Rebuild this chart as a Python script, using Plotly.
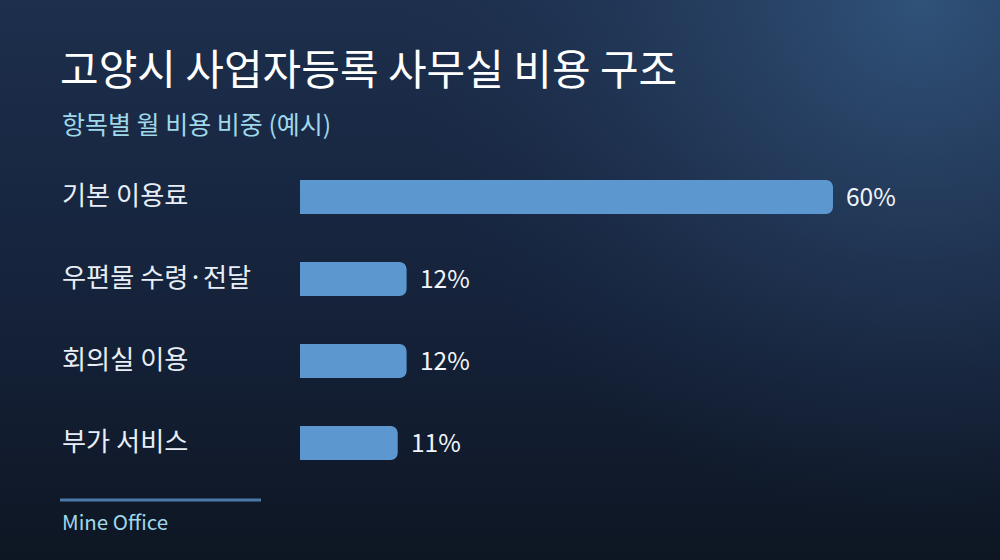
import base64

import plotly.graph_objects as go

# 데이터
categories = ["기본 이용료", "우편물 수령·전달", "회의실 이용", "부가 서비스"]
shares = [60, 12, 12, 11]
value_labels = ["60%", "12%", "12%", "11%"]

title_text = "고양시 사업자등록 사무실 비용 구조"
subtitle_text = "항목별 월 비용 비중 (예시)"
footer_text = "Mine Office"

# 레이아웃 (픽셀)
W, H = 1000, 560
L, R, T, B = 300, 100, 156, 76
PW, PH = W - L - R, H - T - B
FONT = "Noto Sans CJK KR"


def px_x(px):
    return (px - L) / PW


def px_y(py):
    return (H - B - py) / PH


bg_svg = f"""<svg xmlns='http://www.w3.org/2000/svg' width='{W}' height='{H}'>
<defs>
<linearGradient id='g' x1='0' y1='0' x2='0' y2='1'>
<stop offset='0' stop-color='#1d2f4d'/>
<stop offset='0.55' stop-color='#15223a'/>
<stop offset='1' stop-color='#0e1623'/>
</linearGradient>
<radialGradient id='r' cx='{W * 0.92}' cy='0' r='520' gradientUnits='userSpaceOnUse'>
<stop offset='0' stop-color='#31547c' stop-opacity='0.95'/>
<stop offset='0.5' stop-color='#2a4568' stop-opacity='0.5'/>
<stop offset='1' stop-color='#1e3150' stop-opacity='0'/>
</radialGradient>
</defs>
<rect width='{W}' height='{H}' fill='url(#g)'/>
<rect width='{W}' height='{H}' fill='url(#r)'/>
</svg>"""
bg_src = "data:image/svg+xml;base64," + base64.b64encode(bg_svg.encode()).decode()

fig = go.Figure(
    go.Bar(
        x=shares,
        y=categories,
        orientation="h",
        marker=dict(color="#5d97d0", line=dict(width=0)),
        hoverinfo="skip",
    )
)

annotations = []
for cat, val, lab in zip(categories, shares, value_labels):
    # 항목 이름
    annotations.append(
        dict(
            x=px_x(60), xref="paper", y=cat, yref="y",
            text=cat, showarrow=False, xanchor="left", yanchor="middle",
            yshift=3, font=dict(family=FONT, size=26.2, color="#e8eef6"),
        )
    )
    # 값 라벨
    annotations.append(
        dict(
            x=val, xref="x", y=cat, yref="y",
            text=lab, showarrow=False, xanchor="left", yanchor="middle",
            xshift=11, yshift=2, font=dict(family=FONT, size=24.5, color="#f2f5f9"),
        )
    )

annotations.append(
    dict(
        x=px_x(60), xref="paper", y=px_y(123), yref="paper",
        text=subtitle_text, showarrow=False, xanchor="left", yanchor="middle",
        font=dict(family=FONT, size=25, color="#9fd8ea"),
    )
)
annotations.append(
    dict(
        x=px_x(60), xref="paper", y=px_y(521), yref="paper",
        text=footer_text, showarrow=False, xanchor="left", yanchor="middle",
        font=dict(family=FONT, size=20.5, color="#9fd8ea"),
    )
)

fig.update_layout(
    width=W,
    height=H,
    margin=dict(l=L, r=R, t=T, b=B, pad=0),
    paper_bgcolor="#131e31",
    plot_bgcolor="rgba(0,0,0,0)",
    showlegend=False,
    bargap=0.585,
    barcornerradius=7,
    title=dict(
        text=title_text,
        x=60 / W, xanchor="left", xref="container",
        y=1 - 70 / H, yanchor="middle", yref="container",
        font=dict(family=FONT, size=42, color="#ffffff", weight=400),
    ),
    xaxis=dict(range=[0, PW / (533 / 60)], visible=False, fixedrange=True),
    yaxis=dict(
        autorange="reversed", visible=False, fixedrange=True,
        categoryorder="array", categoryarray=categories,
    ),
    annotations=annotations,
    shapes=[
        dict(
            type="line", xref="paper", yref="paper",
            x0=px_x(60), x1=px_x(261), y0=px_y(500), y1=px_y(500),
            line=dict(color="#4a79a8", width=3),
        )
    ],
    images=[
        dict(
            source=bg_src, xref="paper", yref="paper",
            x=px_x(0), y=px_y(0), sizex=W / PW, sizey=H / PH,
            xanchor="left", yanchor="top", sizing="stretch", layer="below",
        )
    ],
)

fig.write_html(
    "out.html",
    config={"displayModeBar": False},
    post_script="document.body.style.margin='0';",
)
